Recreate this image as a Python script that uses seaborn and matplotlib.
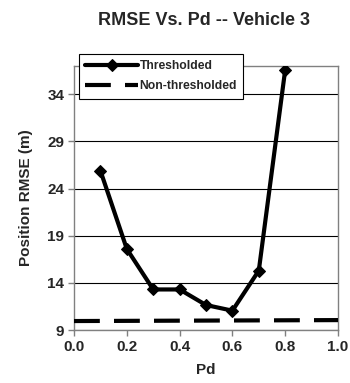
import matplotlib
matplotlib.use("Agg")
import matplotlib.pyplot as plt
import seaborn as sns
import pandas as pd

pd_thr = [0.1, 0.2, 0.3, 0.4, 0.5, 0.6, 0.7, 0.8]
rmse_thr = [25.9, 17.6, 13.3, 13.3, 11.65, 11.05, 15.3, 36.6]
pd_non = [0.0, 0.1, 0.2, 0.3, 0.4, 0.5, 0.6, 0.7, 0.8, 0.9, 1.0]
rmse_non = [9.95, 9.96, 9.97, 9.98, 9.99, 10.0, 10.01, 10.02, 10.03, 10.04, 10.05]
x_ticks = [0.0, 0.2, 0.4, 0.6, 0.8, 1.0]
y_ticks = [9, 14, 19, 24, 29, 34]

sns.set_style("white")
plt.rcParams['font.family'] = ['Liberation Sans', 'DejaVu Sans']
plt.rcParams['font.weight'] = 'bold'

fig = plt.figure(figsize=(3.5, 3.83), dpi=100)
ax = fig.add_axes([74/350, 1-330/383, (338-74)/350, (330-66)/383])

df_thr = pd.DataFrame({"Pd": pd_thr, "RMSE": rmse_thr})
df_non = pd.DataFrame({"Pd": pd_non, "RMSE": rmse_non})

sns.lineplot(data=df_thr, x="Pd", y="RMSE", ax=ax, color="black", lw=3,
             marker="D", markersize=6, markeredgecolor="black",
             label="Thresholded", zorder=4)
sns.lineplot(data=df_non, x="Pd", y="RMSE", ax=ax, color="black", lw=3,
             linestyle=(0, (6.2, 3.4)), label="Non-thresholded", zorder=3)

ax.set_xlim(0, 1.0)
ax.set_ylim(9, 37)
ax.set_xticks(x_ticks)
ax.set_xticklabels([f"{v:.1f}" for v in x_ticks], fontsize=11, fontweight='bold')
ax.set_yticks(y_ticks)
ax.set_yticklabels([str(v) for v in y_ticks], fontsize=11, fontweight='bold')
ax.yaxis.grid(True, color="black", lw=0.8)
ax.set_axisbelow(True)
for s in ax.spines.values():
    s.set_color("#808080")
    s.set_linewidth(1.0)
ax.tick_params(axis='both', direction='out', length=4, width=1, color="#808080",
               left=True, bottom=True, pad=3)

ax.set_xlabel("Pd", fontsize=11, fontweight='bold', labelpad=7)
ax.set_ylabel("Position RMSE (m)", fontsize=11, fontweight='bold', labelpad=10)
fig.text(204/350, 1-20.5/383, "RMSE Vs. Pd -- Vehicle 3", ha='center', va='center',
         fontsize=13, fontweight='bold')

leg = ax.legend(loc='upper left', bbox_to_anchor=(79/350, 1-54/383),
                bbox_transform=fig.transFigure, frameon=True, fancybox=False,
                edgecolor='black', framealpha=1, handlelength=4.4,
                handletextpad=0.1, borderpad=0.5, labelspacing=0.7,
                prop={'size': 8.7, 'weight': 'bold'}, borderaxespad=0)
leg.get_frame().set_linewidth(0.8)
leg.set_zorder(10)

fig.savefig("out.png", dpi=100)
